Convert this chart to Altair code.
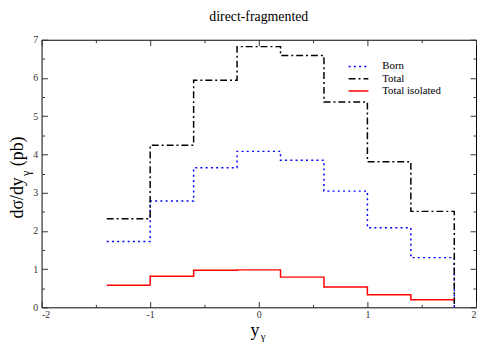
import altair as alt
import pandas as pd

# ---- data ----
edges = [-1.4, -1.0, -0.6, -0.2, 0.2, 0.6, 1.0, 1.4, 1.8]
born = [1.72, 2.78, 3.65, 4.08, 3.85, 3.04, 2.08, 1.30]
total = [2.32, 4.24, 5.94, 6.82, 6.59, 5.37, 3.81, 2.51]
isolated = [0.58, 0.81, 0.97, 0.98, 0.79, 0.53, 0.33, 0.20]
series_names = ["Born", "Total", "Total isolated"]
series_colors = ["#0000ff", "#000000", "#ff0000"]
series_dash = [[2, 3.3], [7, 3, 2, 3], [1, 0]]
x_major = [-2, -1, 0, 1, 2]
x_all = [-2, -1.5, -1, -0.5, 0, 0.5, 1, 1.5, 2]
y_major = [0, 1, 2, 3, 4, 5, 6, 7]
y_all = [0, 0.5, 1, 1.5, 2, 2.5, 3, 3.5, 4, 4.5, 5, 5.5, 6, 6.5, 7]

rows = []
for name, vals, drop in [("Born", born, True), ("Total", total, True),
                         ("Total isolated", isolated, False)]:
    k = 0
    for i, v in enumerate(vals):
        rows.append(dict(series=name, x=edges[i], y=v, k=k)); k += 1
        rows.append(dict(series=name, x=edges[i + 1], y=v, k=k)); k += 1
    if drop:
        rows.append(dict(series=name, x=edges[-1], y=0.0, k=k))
df = pd.DataFrame(rows)

W, H = 440, 271
serif = "Liberation Serif"
xscale = alt.Scale(domain=[-2, 2], nice=False, zero=False)
yscale = alt.Scale(domain=[0, 7], nice=False, zero=False)
tsize = {"condition": {"test": "abs(datum.value - round(datum.value)) < 0.001", "value": 6}, "value": 3}

lines = alt.Chart(df).mark_line(strokeWidth=1.5, clip=False).encode(
    x=alt.X("x:Q", scale=xscale,
            axis=alt.Axis(orient="bottom", values=x_major, ticks=False, domain=False,
                          grid=False, title=None, labelFont=serif, labelFontSize=10,
                          labelColor="#333", labelPadding=2, labelExpr="'' + datum.value")),
    y=alt.Y("y:Q", scale=yscale,
            axis=alt.Axis(orient="left", values=y_major, ticks=False, domain=False,
                          grid=False, title=None, labelFont=serif, labelFontSize=10,
                          labelColor="#333", labelPadding=4, labelExpr="'' + datum.value")),
    color=alt.Color("series:N", scale=alt.Scale(domain=series_names, range=series_colors),
                    legend=None),
    strokeDash=alt.StrokeDash("series:N", scale=alt.Scale(domain=series_names, range=series_dash),
                              legend=None),
    order="k:Q",
    detail="series:N",
)

def tick_layer(xo, yo):
    return alt.Chart(df).mark_point(opacity=0).encode(
        x=alt.X("x:Q", scale=xscale,
                axis=alt.Axis(orient=xo, offset=-H, values=x_all, labels=False, domain=False,
                              grid=False, title=None, tickSize=tsize, tickColor="#333")),
        y=alt.Y("y:Q", scale=yscale,
                axis=alt.Axis(orient=yo, offset=-W, values=y_all, labels=False, domain=False,
                              grid=False, title=None, tickSize=tsize, tickColor="#333")),
    )

ticks_a = tick_layer("top", "right")
ticks_b = tick_layer("bottom", "left")

def label(text, x, y, size, angle=0, align="left", baseline="alphabetic"):
    return alt.Chart(pd.DataFrame({"t": [text]})).mark_text(
        font=serif, fontSize=size, angle=angle, align=align, baseline=baseline,
        color="#000").encode(x=alt.value(x), y=alt.value(y), text="t:N")

# manual legend (top right, inside the frame)
legend_layers = []
for i, (name, col, dash) in enumerate(zip(series_names, series_colors, series_dash)):
    yy = 27 + i * 12.5
    legend_layers.append(
        alt.Chart(pd.DataFrame({"s": [name]})).mark_rule(
            color=col, strokeDash=dash, strokeWidth=1.5).encode(
            x=alt.value(311), x2=alt.value(331), y=alt.value(yy)))
    legend_layers.append(label(name, 345, yy, 11, baseline="middle"))

title_txt = label("direct-fragmented", 220, -19, 14, align="center")
ytitle1 = label("dσ/dy", -19, 181, 18, angle=270)
ytitle2 = label("γ", -12, 138, 12, angle=270)
ytitle3 = label("(pb)", -19, 128, 18, angle=270)
xtitle1 = label("y", 216, 300, 18, align="center")
xtitle2 = label("γ", 222, 304, 11)

chart = alt.layer(lines, ticks_a, ticks_b, *legend_layers, title_txt, ytitle1, ytitle2, ytitle3,
                  xtitle1, xtitle2).resolve_axis(x="independent", y="independent").properties(
    width=W, height=H,
    padding={"left": 34, "top": 30, "right": 1, "bottom": 36},
    autosize=alt.AutoSizeParams(type="none"),
    background="white",
).configure_view(stroke="black", strokeWidth=1)

chart.save("out.html", embed_options={"renderer": "svg", "actions": False})
